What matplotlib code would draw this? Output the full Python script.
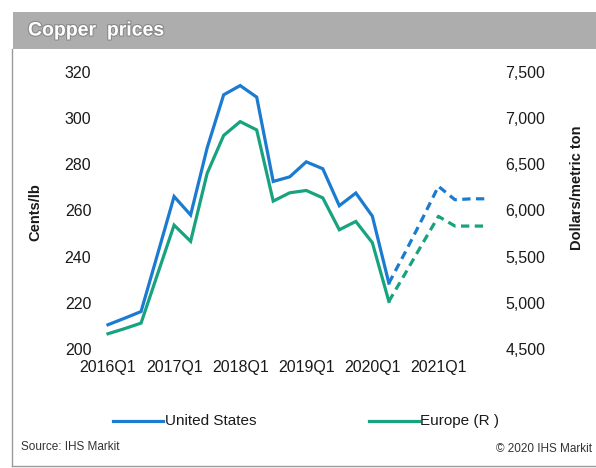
import matplotlib
matplotlib.use("Agg")
import matplotlib.pyplot as plt
import matplotlib.patheffects as pe
from matplotlib.patches import Rectangle
from matplotlib.lines import Line2D

plt.rcParams['font.family'] = ['Liberation Sans', 'DejaVu Sans']

# ---- data ----
quarters = ['2016Q1', '2016Q2', '2016Q3', '2016Q4',
            '2017Q1', '2017Q2', '2017Q3', '2017Q4',
            '2018Q1', '2018Q2', '2018Q3', '2018Q4',
            '2019Q1', '2019Q2', '2019Q3', '2019Q4',
            '2020Q1', '2020Q2', '2020Q3', '2020Q4',
            '2021Q1', '2021Q2', '2021Q3', '2021Q4']
us_hist = [210.5, 213.3, 216.2, 241, 266, 258, 287, 310, 314, 309,
           272.5, 274.5, 281, 278, 262, 267.5, 257.5, 228.5]
us_fcst = [228.5, 242, 256, 270.4, 264.6, 265, 265]
eu_hist = [4665, 4720, 4780, 5310, 5840, 5665, 6400, 6810, 6960, 6870,
           6100, 6190, 6215, 6135, 5790, 5880, 5650, 5015]
eu_fcst = [5015, 5320, 5630, 5935, 5830, 5830, 5830]
xtick_labels = ['2016Q1', '2017Q1', '2018Q1', '2019Q1', '2020Q1', '2021Q1']
left_ticks = [200, 220, 240, 260, 280, 300, 320]
right_ticks = [4500, 5000, 5500, 6000, 6500, 7000, 7500]

BLUE = '#1b7bd0'
GREEN = '#17a37e'
W, H = 596, 468

fig = plt.figure(figsize=(W / 100, H / 100), dpi=100)

# title bar
fig.patches.append(Rectangle((13 / W, 1 - 49 / H), 1 - 13 / W, 37 / H,
                             transform=fig.transFigure, facecolor='#adadad',
                             edgecolor='none', zorder=0))
fig.text(28 / W, 1 - 31 / H, 'Copper  prices', color='white', fontsize=14,
         fontweight='bold', va='center', ha='left',
         path_effects=[pe.withStroke(linewidth=1.6, foreground='#8a8a8a')])
# frame lines
fig.add_artist(Line2D([12 / W, 12 / W], [1 - 466 / H, 1 - 49 / H],
                      transform=fig.transFigure, color='#9a9a9a', lw=1))
fig.add_artist(Line2D([12 / W, 1], [1 - 466 / H, 1 - 466 / H],
                      transform=fig.transFigure, color='#9a9a9a', lw=1))

ax_l = 108 / W
ax_r = 488 / W
ax_b = 1 - 349 / H
ax_t = 1 - 71.7 / H
ax = fig.add_axes([ax_l, ax_b, ax_r - ax_l, ax_t - ax_b])
ax2 = ax.twinx()

x_all = list(range(len(quarters)))
n_hist = len(us_hist)
x_hist = x_all[:n_hist]
x_fcst = x_all[n_hist - 1:]

ax.plot(x_hist, us_hist, color=BLUE, lw=2.3, solid_joinstyle='miter',
        clip_on=False, zorder=3)
ax.plot(x_fcst, us_fcst, color=BLUE, lw=2.3, dashes=(2.6, 1.7),
        clip_on=False, zorder=3)
ax2.plot(x_hist, eu_hist, color=GREEN, lw=2.3, solid_joinstyle='miter',
         clip_on=False, zorder=3)
ax2.plot(x_fcst, eu_fcst, color=GREEN, lw=2.3, dashes=(2.6, 1.7),
         clip_on=False, zorder=3)

ax.set_xlim(0, len(quarters) - 1)
ax.set_ylim(200, 320)
ax2.set_ylim(4500, 7500)
ax.set_yticks(left_ticks)
ax.set_yticklabels([str(v) for v in left_ticks])
ax2.set_yticks(right_ticks)
ax2.set_yticklabels([f'{v:,}' for v in right_ticks])
ax.set_xticks([quarters.index(q) for q in xtick_labels])
ax.set_xticklabels(xtick_labels)

for a in (ax, ax2):
    for s in a.spines.values():
        s.set_visible(False)
    a.patch.set_visible(False)
ax.tick_params(axis='y', length=0, pad=12, labelsize=11.5, colors='#1a1a1a')
ax2.tick_params(axis='y', length=0, pad=12.5, labelsize=11.5, colors='#1a1a1a')
ax.tick_params(axis='x', length=0, pad=8, labelsize=11.5, colors='#1a1a1a')

fig.text(35 / W, 1 - 212 / H, 'Cents/lb', rotation=90, fontsize=10.5,
         fontweight='bold', ha='center', va='center', color='#1a1a1a')
fig.text(577 / W, 1 - 188 / H, 'Dollars/metric ton', rotation=90,
         fontsize=10.5, fontweight='bold', ha='center', va='center',
         color='#1a1a1a')

# legend
ly = 1 - 421 / H
fig.add_artist(Line2D([113 / W, 163 / W], [ly, ly], transform=fig.transFigure,
                      color=BLUE, lw=2.3))
fig.text(165 / W, ly, 'United States', fontsize=11, ha='left', va='center',
         color='#1a1a1a')
fig.add_artist(Line2D([369 / W, 419 / W], [ly, ly], transform=fig.transFigure,
                      color=GREEN, lw=2.3))
fig.text(420 / W, ly, 'Europe (R )', fontsize=11, ha='left', va='center',
         color='#1a1a1a')

fig.text(21 / W, 1 - 447 / H, 'Source: IHS Markit', fontsize=8.5,
         ha='left', va='center', color='#333333')
fig.text(592 / W, 1 - 449 / H, '\u00a9 2020 IHS Markit', fontsize=8.5,
         ha='right', va='center', color='#333333')

fig.savefig('out.png', dpi=100)
